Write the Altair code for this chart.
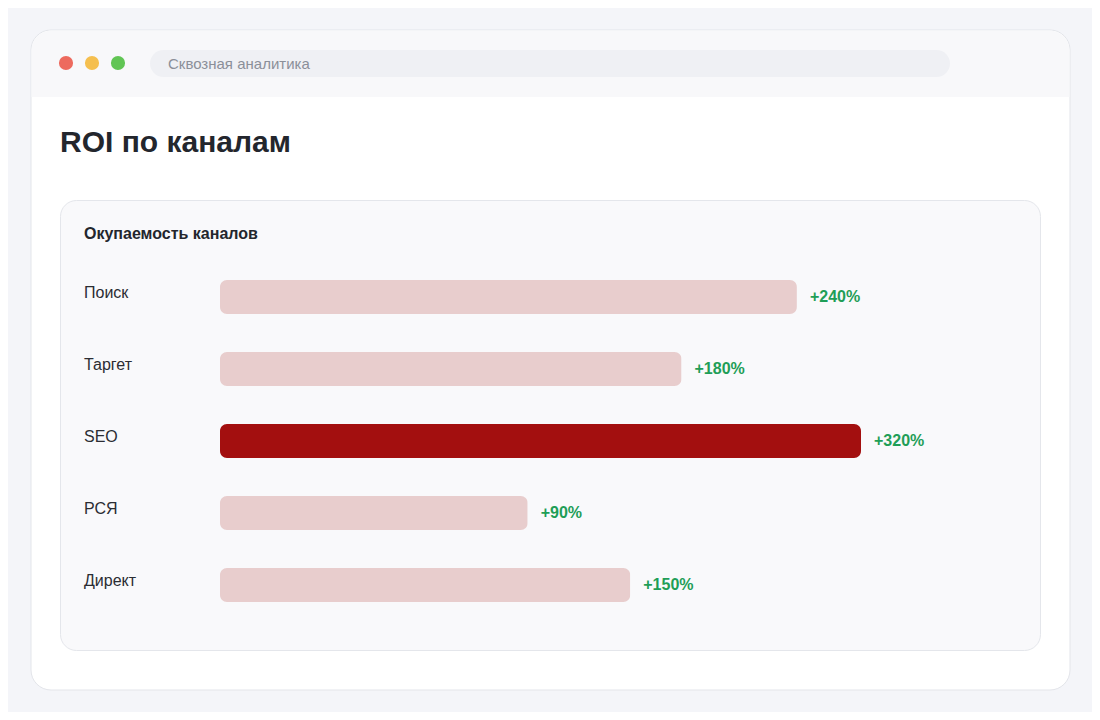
import pandas as pd
import altair as alt

# data
channels = ['Поиск', 'Таргет', 'SEO', 'РСЯ', 'Директ']
bar_share = [90, 72, 100, 48, 64]          # bar length, % of the best channel
roi_labels = ['+240%', '+180%', '+320%', '+90%', '+150%']
best_channel = 'SEO'

FONT = 'Liberation Sans'
W, H = 1084, 704

source = pd.DataFrame({'channel': channels, 'share': bar_share, 'roi': roi_labels})
one = pd.DataFrame({'k': [0]})

x_scale = alt.Scale(domain=[0, 100], range=[212, 853])
y_scale = alt.Scale(domain=channels, range=[253, 613], paddingInner=0.528, paddingOuter=0.264)


def box(x, x2, y, y2, fill, stroke=None, **kw):
    mark = dict(fill=fill, **kw)
    if stroke:
        mark.update(stroke=stroke, strokeWidth=1)
    return alt.Chart(one).mark_rect(**mark).encode(
        x=alt.value(x), x2=alt.value(x2), y=alt.value(y), y2=alt.value(y2))


def label(txt, x, y, size, color, weight='normal', baseline='middle'):
    return alt.Chart(one).mark_text(
        text=txt, align='left', baseline=baseline, font=FONT,
        fontSize=size, fontWeight=weight, color=color
    ).encode(x=alt.value(x), y=alt.value(y))


def dot(x, color):
    return alt.Chart(one).mark_circle(size=200, opacity=1, color=color).encode(
        x=alt.value(x), y=alt.value(55))


# browser window
window = box(23, 1062, 22, 682, '#ffffff', '#e3e5ea', cornerRadius=20)
topbar = box(23.5, 1061.5, 22.5, 89, '#f8f8fa', cornerRadiusTopLeft=20, cornerRadiusTopRight=20)
address = box(142, 942, 42, 69, '#eff0f4', cornerRadius=13.5)
address_txt = label('Сквозная аналитика', 160, 56, 15, '#8b8f99')
page_title = label('ROI по каналам', 52, 144, 30, '#23262d', 'bold', 'alphabetic')
card = box(52.5, 1032.5, 192.5, 642.5, '#f9f9fb', '#e4e6eb', cornerRadius=16)
card_title = label('Окупаемость каналов', 76, 226, 16, '#23262d', 'bold')

bars = alt.Chart(source).mark_bar(cornerRadius=7).encode(
    x=alt.X('share:Q', scale=x_scale, axis=None),
    y=alt.Y('channel:N', scale=y_scale, axis=None),
    color=alt.condition(alt.datum.channel == best_channel,
                        alt.value('#a30f0f'), alt.value('#e8cdcd'))
)

names = alt.Chart(source).mark_text(
    align='left', baseline='middle', dy=-4, font=FONT, fontSize=16, color='#2b2d33'
).encode(
    x=alt.value(76),
    y=alt.Y('channel:N', scale=y_scale, axis=None),
    text='channel:N'
)

values = alt.Chart(source).mark_text(
    align='left', baseline='middle', dx=13, font=FONT, fontSize=16,
    fontWeight='bold', color='#1f9e57'
).encode(
    x=alt.X('share:Q', scale=x_scale, axis=None),
    y=alt.Y('channel:N', scale=y_scale, axis=None),
    text='roi:N'
)

chart = alt.layer(
    window, topbar, dot(58, '#ed6a5e'), dot(84, '#f5bf4f'), dot(110, '#61c554'),
    address, address_txt, page_title, card, card_title, bars, names, values
).resolve_scale(x='shared', y='shared').properties(
    width=W, height=H, padding=0, background='#f4f5f9',
    autosize=alt.AutoSizeParams(type='none')
).configure_view(stroke=None)

chart.save("out.html", embed_options={"renderer": "svg", "actions": False})
